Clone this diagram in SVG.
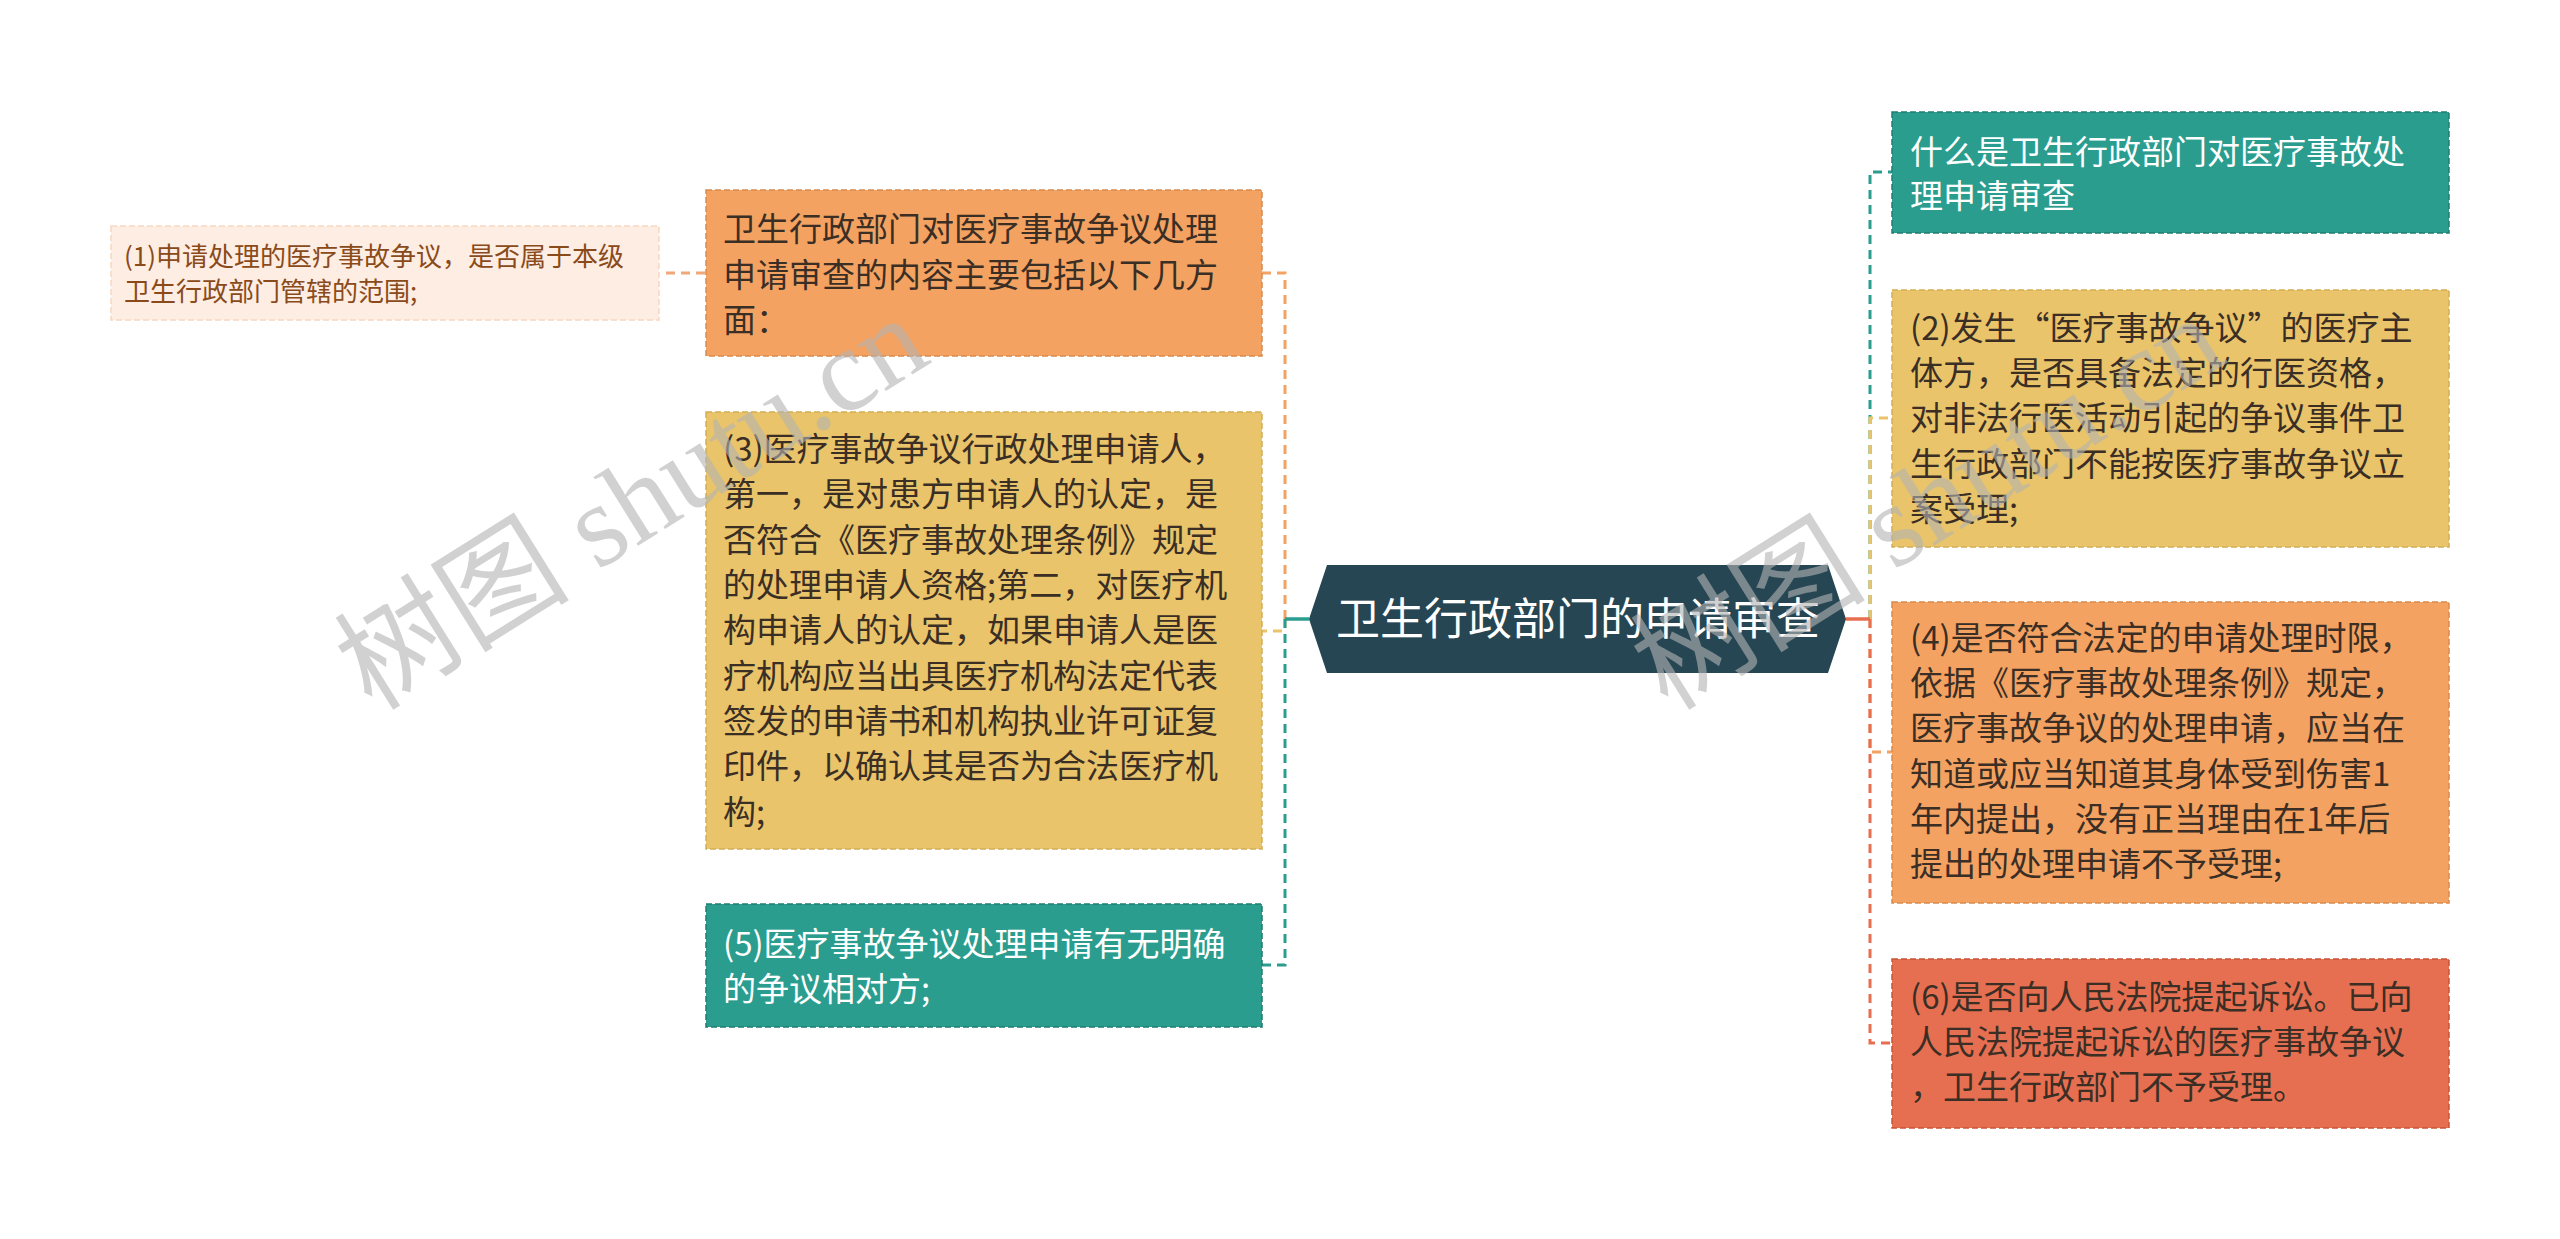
<svg xmlns="http://www.w3.org/2000/svg" width="2560" height="1239" viewBox="0 0 2560 1239">
<style>
.t{font-family:"Noto Sans CJK SC","Noto Sans",sans-serif;font-size:33px;fill:#3a2e25}
.w{fill:#ffffff}
.s{font-size:26px;fill:#8a4a1a}
.box{stroke-width:1.5;stroke-dasharray:6 3}
.c{fill:none;stroke-width:3;stroke-dasharray:9 6}
.wm{font-family:"Liberation Serif","Noto Sans CJK SC",serif;font-size:118px;fill:#b4b4b4;opacity:0.6}
</style>
<rect width="2560" height="1239" fill="#ffffff"/>
<g id="connectors">
<path class="c" d="M705 273H660" stroke="#f0a878"/>
<path class="c" d="M1285 619V273H1262" stroke="#f4a261"/>
<path class="c" d="M1285 619V631H1262" stroke="#e9c46a"/>
<path class="c" d="M1285 619V965H1262" stroke="#2a9d8f"/>
<path d="M1309 619H1285" stroke="#2a9d8f" stroke-width="3.5" fill="none"/>
<path class="c" d="M1870 619V172H1892" stroke="#2a9d8f"/>
<path class="c" d="M1870 619V418H1892" stroke="#e9c46a"/>
<path class="c" d="M1870 619V752H1892" stroke="#f4a261"/>
<path class="c" d="M1870 619V1043H1892" stroke="#e76f51"/>
<path d="M1846 619H1870" stroke="#e76f51" stroke-width="3.5" fill="none"/>
</g>
<g id="center">
<polygon points="1309,619 1327,565 1828,565 1846,619 1828,673 1327,673" fill="#264653"/>
<text class="t w" x="1578" y="635" text-anchor="middle" style="font-size:44px">卫生行政部门的申请审查</text>
</g>
<g id="n1">
<rect class="box" x="111" y="226" width="548" height="94" fill="#fdede2" stroke="#f7d8c3"/>
<text class="t s" x="124" y="266">(1)申请处理的医疗事故争议，是否属于本级</text>
<text class="t s" x="124" y="301">卫生行政部门管辖的范围;</text>
</g>
<g id="n0">
<rect class="box" x="706" y="190" width="556" height="166" fill="#f4a261" stroke="#d98a4c"/>
<text class="t" x="723" y="241">卫生行政部门对医疗事故争议处理</text>
<text class="t" x="723" y="287">申请审查的内容主要包括以下几方</text>
<text class="t" x="723" y="332">面：</text>
</g>
<g id="n3">
<rect class="box" x="706" y="412" width="556" height="437" fill="#e9c46a" stroke="#d2ad55"/>
<text class="t" x="723" y="461">(3)医疗事故争议行政处理申请人，</text>
<text class="t" x="723" y="506">第一，是对患方申请人的认定，是</text>
<text class="t" x="723" y="552">否符合《医疗事故处理条例》规定</text>
<text class="t" x="723" y="597">的处理申请人资格;第二，对医疗机</text>
<text class="t" x="723" y="642">构申请人的认定，如果申请人是医</text>
<text class="t" x="723" y="688">疗机构应当出具医疗机构法定代表</text>
<text class="t" x="723" y="733">签发的申请书和机构执业许可证复</text>
<text class="t" x="723" y="778">印件，以确认其是否为合法医疗机</text>
<text class="t" x="723" y="824">构;</text>
</g>
<g id="n5">
<rect class="box" x="706" y="904" width="556" height="123" fill="#2a9d8f" stroke="#1f7d72"/>
<text class="t w" x="723" y="956">(5)医疗事故争议处理申请有无明确</text>
<text class="t w" x="723" y="1001">的争议相对方;</text>
</g>
<g id="r1">
<rect class="box" x="1892" y="112" width="557" height="121" fill="#2a9d8f" stroke="#1f7d72"/>
<text class="t w" x="1910" y="164">什么是卫生行政部门对医疗事故处</text>
<text class="t w" x="1910" y="208">理申请审查</text>
</g>
<g id="r2">
<rect class="box" x="1892" y="290" width="557" height="257" fill="#e9c46a" stroke="#d2ad55"/>
<text class="t" x="1910" y="340">(2)发生“医疗事故争议”的医疗主</text>
<text class="t" x="1910" y="385">体方，是否具备法定的行医资格，</text>
<text class="t" x="1910" y="430">对非法行医活动引起的争议事件卫</text>
<text class="t" x="1910" y="476">生行政部门不能按医疗事故争议立</text>
<text class="t" x="1910" y="521">案受理;</text>
</g>
<g id="r4">
<rect class="box" x="1892" y="602" width="557" height="301" fill="#f4a261" stroke="#d98a4c"/>
<text class="t" x="1910" y="650">(4)是否符合法定的申请处理时限，</text>
<text class="t" x="1910" y="695">依据《医疗事故处理条例》规定，</text>
<text class="t" x="1910" y="740">医疗事故争议的处理申请，应当在</text>
<text class="t" x="1910" y="786">知道或应当知道其身体受到伤害1</text>
<text class="t" x="1910" y="831">年内提出，没有正当理由在1年后</text>
<text class="t" x="1910" y="876">提出的处理申请不予受理;</text>
</g>
<g id="r6">
<rect class="box" x="1892" y="959" width="557" height="169" fill="#e76f51" stroke="#c85538"/>
<text class="t" x="1910" y="1009">(6)是否向人民法院提起诉讼。已向</text>
<text class="t" x="1910" y="1054">人民法院提起诉讼的医疗事故争议</text>
<text class="t" x="1910" y="1099">，卫生行政部门不予受理。</text>
</g>
<g id="watermark">
<text class="wm" transform="translate(372 712) rotate(-32)">树图 shutu.cn</text>
<text class="wm" transform="translate(1668 712) rotate(-32)">树图 shutu.cn</text>
</g>
</svg>
